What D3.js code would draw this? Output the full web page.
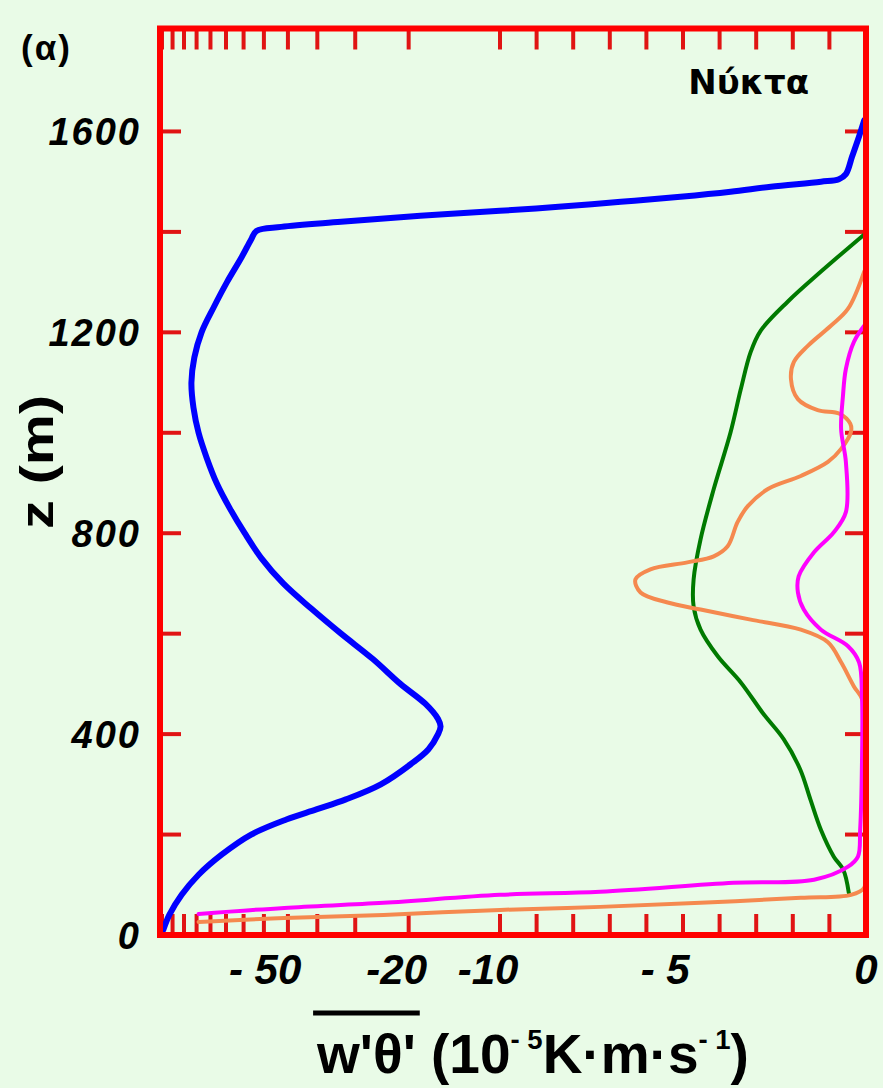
<!DOCTYPE html>
<html>
<head>
<meta charset="utf-8">
<script src="https://cdn.jsdelivr.net/npm/d3@7"></script>
<style>
  html, body { margin: 0; padding: 0; background: #e9fbe7; }
  svg { display: block; }
</style>
</head>
<body>
<svg id="chart" width="883" height="1088"></svg>
<script>
// ---------------- data (z in m, value in 10^-5 K m s^-1) ----------------
const xTickValues = [-130,-120,-110,-100,-90,-80,-70,-60,-50,-40,-30,-20,-10,-9,-8,-7,-6,-5,-4,-3,-2,-1];
const xLabelValues = [-50, -20, -10, -5, 0];
const xLabelTexts  = ["- 50", "-20", "-10", "- 5", "0"];
const xLabelDigits = ["50", "20", "10", "5", "0"];
const yTickValues  = [200, 400, 600, 800, 1000, 1200, 1400, 1600];
const yLabelValues = [0, 400, 800, 1200, 1600];
const panelLabel = "(α)";
const seasonLabel = "Νύκτα";
const yTitle = "z (m)";

// blue profile: [z, value]
const blueProfile = [
  [1622,-0.05],[1590,-0.19],[1550,-0.38],[1515,-0.55],[1505,-0.74],[1500,-1.23],
  [1490,-2.6],[1480,-3.7],[1470,-5.07],[1460,-6.7],[1450,-8.4],[1442,-10],
  [1432,-18.3],[1420,-33.4],[1410,-52.6],[1402,-63.5],[1385,-66.1],[1350,-71],
  [1300,-79.4],[1250,-87.8],[1200,-96.3],[1150,-101.7],[1100,-104],[1050,-102.4],
  [1000,-98.5],[950,-92.6],[900,-85.9],[850,-77.8],[800,-69.4],[750,-61.1],
  [700,-51.8],[650,-41.9],[600,-33.4],[550,-26.3],[500,-21.3],[460,-17.6],
  [430,-16.0],[415,-15.7],[400,-16.0],[370,-17.2],[340,-19.7],[300,-24.7],
  [270,-32.2],[250,-40.3],[230,-50.6],[200,-66.1],[160,-82.7],[120,-98.5],
  [80,-112],[40,-123],[10,-128.8]
];
// green profile
const greenProfile = [
  [1393,-0.08],[1321,-1.23],[1261,-2.14],[1203,-2.88],[1161,-3.15],[1087,-3.42],
  [1001,-3.70],[888,-4.16],[788,-4.52],[708,-4.71],[654,-4.71],[608,-4.52],
  [555,-4.05],[503,-3.42],[440,-2.80],[390,-2.25],[330,-1.80],[270,-1.52],
  [209,-1.23],[156,-0.88],[130,-0.62],[84,-0.47]
];
// orange profile
const orangeProfile = [
  [1321,-0.05],[1247,-0.49],[1213,-0.96],[1173,-1.59],[1141,-1.97],[1107,-2.05],
  [1067,-1.86],[1045,-1.32],[1038,-0.72],[1018,-0.43],[1002,-0.41],[968,-0.68],
  [942,-1.04],[914,-1.78],[888,-2.68],[854,-3.23],[822,-3.51],[774,-3.78],
  [754,-4.16],[742,-4.88],[728,-5.89],[708,-6.30],[682,-6.16],[662,-5.42],
  [648,-4.52],[628,-3.15],[608,-1.78],[583,-1.04],[543,-0.68],[495,-0.33],
  [465,-0.08],[300,-0.02],[120,-0.02],[94,-0.05],[80,-0.41],[74,-1.78],
  [64,-4.52],[56,-7.26],[50,-10],[40,-24.2],[34,-51.4],[26,-98.5]
];
// magenta profile
const magentaProfile = [
  [1213,-0.05],[1181,-0.33],[1127,-0.55],[1073,-0.63],[1007,-0.68],[942,-0.55],
  [842,-0.55],[802,-0.88],[762,-1.42],[714,-1.84],[682,-1.86],[648,-1.70],
  [608,-1.23],[575,-0.49],[543,-0.19],[475,-0.11],[343,-0.11],[209,-0.16],
  [156,-0.22],[136,-0.49],[110,-1.42],[104,-3.62],[86,-7.26],[80,-10],
  [64,-24.2],[54,-51.4],[42,-98.5]
];

const series = [
  {data: blueProfile,    color: "#0000ff", width: 6},
  {data: greenProfile,   color: "#007a00", width: 4},
  {data: orangeProfile,  color: "#f5894f", width: 4},
  {data: magentaProfile, color: "#ff00ff", width: 4}
];

// ---------------- layout ----------------
const L = 160, R = 866, T = 28.5, B = 935;
const xBreak = 500;
const FONT = "'Liberation Sans', Arial, sans-serif";
const svg = d3.select("#chart");
svg.append("rect").attr("width", 883).attr("height", 1088).attr("fill", "#e9fbe7");

// piecewise scale: log for |v| >= 10, linear for |v| < 10
const xLin = d3.scaleLinear().domain([-10, 0]).range([xBreak, R]);
const xLog = d3.scaleLog().domain([132, 10]).range([L, xBreak]);
const x = v => (v >= -10 ? xLin(v) : xLog(-v));
const y = d3.scaleLinear().domain([0, 1805]).range([B, T]);

const tickColor = "#e01414";
const tickLen = 21;
const g = svg.append("g");

// x ticks top & bottom
xTickValues.forEach(v => {
  g.append("line").attr("x1", x(v)).attr("x2", x(v)).attr("y1", B).attr("y2", B - tickLen)
    .attr("stroke", tickColor).attr("stroke-width", 4);
  g.append("line").attr("x1", x(v)).attr("x2", x(v)).attr("y1", T).attr("y2", T + tickLen)
    .attr("stroke", tickColor).attr("stroke-width", 4);
});
// y ticks left & right
yTickValues.forEach(v => {
  g.append("line").attr("x1", L).attr("x2", L + tickLen).attr("y1", y(v)).attr("y2", y(v))
    .attr("stroke", tickColor).attr("stroke-width", 4);
  g.append("line").attr("x1", R).attr("x2", R - tickLen).attr("y1", y(v)).attr("y2", y(v))
    .attr("stroke", tickColor).attr("stroke-width", 4);
});

// profiles
const line = d3.line()
  .x(d => x(d[1]))
  .y(d => y(d[0]))
  .curve(d3.curveCatmullRom.alpha(0.5));
series.forEach(s => {
  g.append("path").attr("d", line(s.data)).attr("fill", "none")
    .attr("stroke", s.color).attr("stroke-width", s.width)
    .attr("stroke-linejoin", "round").attr("stroke-linecap", "round");
});

// frame
g.append("rect").attr("x", L).attr("y", T).attr("width", R - L).attr("height", B - T)
  .attr("fill", "none").attr("stroke", "#ff0000").attr("stroke-width", 6);

function txt(sel) {
  return sel.style("font-family", FONT).attr("fill", "#000");
}

// x tick labels: digits centred (slightly left) on tick
xLabelValues.forEach((v, i) => {
  const tmp = txt(svg.append("text")).attr("font-size", 42).attr("font-weight", "bold")
    .attr("font-style", "italic").text(xLabelDigits[i]);
  const w = tmp.node().getComputedTextLength();
  tmp.remove();
  const shift = v < -20 ? 10 : (v < 0 ? 5 : 0);
  txt(svg.append("text")).attr("x", x(v) + w / 2 - shift).attr("y", 984)
    .attr("text-anchor", "end").attr("font-size", 42).attr("font-weight", "bold")
    .attr("font-style", "italic").text(xLabelTexts[i]);
});

// y tick labels
yLabelValues.forEach(v => {
  txt(svg.append("text")).attr("x", 141).attr("y", y(v)).attr("dy", "0.36em")
    .attr("text-anchor", "end").attr("font-size", 38).attr("font-weight", "bold")
    .attr("font-style", "italic").attr("letter-spacing", 2)
    .text(d3.format("d")(v));
});

// y axis title (wide bold face)
txt(svg.append("text")).attr("transform", "translate(53,462) rotate(-90) scale(1.25,1)")
  .attr("text-anchor", "middle").attr("font-size", 46).attr("font-weight", "bold")
  .text(yTitle);

// panel label
txt(svg.append("text")).attr("x", 21).attr("y", 60).attr("font-size", 35)
  .attr("font-weight", "bold").attr("letter-spacing", 2).text(panelLabel);

// season label
svg.append("text").attr("x", 809).attr("y", 94).attr("text-anchor", "end")
  .style("font-family", "'DejaVu Sans', sans-serif").attr("font-size", 34).attr("font-weight", "bold")
  .attr("fill", "#000").text(seasonLabel);

// x axis title
const tg = svg.append("g");
const fs = 55;
const baseY = 1073;
const t1 = txt(tg.append("text")).attr("x", 0).attr("y", baseY).attr("font-size", fs)
  .attr("font-weight", "bold").text("w'θ'");
const w1 = t1.node().getComputedTextLength();
const t2 = txt(tg.append("text")).attr("x", w1).attr("y", baseY).attr("font-size", fs)
  .attr("font-weight", "bold").attr("xml:space", "preserve");
t2.append("tspan").text("\u00a0(10");
t2.append("tspan").attr("font-size", fs * 0.5).attr("dy", -24).text("- 5");
t2.append("tspan").attr("dy", 24).text("K·m·s");
t2.append("tspan").attr("font-size", fs * 0.5).attr("dy", -24).text("- 1");
t2.append("tspan").attr("dy", 24).text(")");
const totalW = w1 + t2.node().getComputedTextLength();
const x0 = 533 - totalW / 2;
tg.attr("transform", `translate(${x0},0)`);
tg.append("line").attr("x1", -4).attr("x2", w1 + 4).attr("y1", 1013).attr("y2", 1013)
  .attr("stroke", "#000").attr("stroke-width", 5);
</script>
</body>
</html>
